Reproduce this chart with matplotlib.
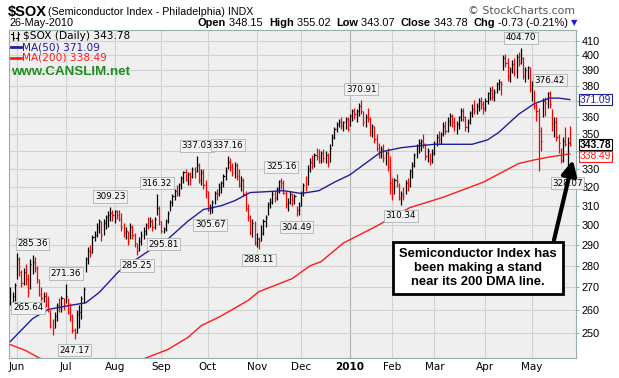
import numpy as np
import pandas as pd
import matplotlib
matplotlib.use("Agg")
import matplotlib.pyplot as plt
from matplotlib.lines import Line2D
from matplotlib.transforms import blended_transform_factory, offset_copy

# ---------------- data ----------------
start_date = "2009-05-27"
end_date = "2010-05-26"
holidays = ["2009-07-03", "2009-09-07", "2009-11-26", "2009-12-25",
            "2010-01-01", "2010-01-18", "2010-02-15", "2010-04-02"]

highs = [270, 268, 272, 286, 284, 278, 279, 281, 276, 283, 285.36, 284, 280, 274, 270, 268, 268, 266, 260, 256,
         259, 263, 265, 266, 265,
         271.36, 265, 263, 258, 252, 260, 262, 266, 270, 284, 289, 290, 295, 297, 301, 303, 302, 303, 305, 307, 309.23, 308,
         308, 308, 308, 306, 301, 299, 297, 301, 300, 296, 291, 294, 297, 299, 301, 304, 304, 303, 304, 316.32, 310,
         302, 299, 303, 307, 313, 316, 319, 321, 322, 326, 329, 330, 328, 328, 331, 331, 337.03, 333, 330, 330, 324,
         318, 311, 313, 318, 319, 322, 323, 327, 331, 337.16, 336, 333, 334, 333, 330, 326, 325, 318, 311, 305, 303, 302,
         296, 294, 300, 303, 305, 312, 314, 318, 318, 320, 324, 325.16, 324, 318, 314, 318, 317, 316, 310, 312,
         318, 322, 326, 332, 336, 338, 339, 342, 341, 340, 341, 340, 339, 344, 350, 354, 357, 359, 360, 358, 360, 360,
         362, 365, 366, 365, 369, 370.91, 364, 362, 366, 360, 356, 355, 350, 345, 343, 344, 340, 342, 337,
         325, 325, 327, 322, 318, 320, 324, 325, 330, 334, 339, 344, 347, 347, 350, 345, 342, 339, 341,
         346, 350, 352, 351, 357, 358, 360, 363, 362, 360, 358, 361, 366, 366, 361, 359, 364, 368, 371, 369, 372, 373, 370,
         372, 376, 379, 380, 378, 382, 384, 383, 400, 401, 398, 392, 397, 398, 401, 402, 404.70, 399, 392, 393, 392,
         383, 377, 369, 366, 354, 372, 373, 376, 376.42, 365, 360, 360, 350, 342, 348, 354, 348, 355.02]

lows = [262, 261, 264, 274, 275, 270, 271, 271, 265.64, 269, 276, 277, 272, 266, 264, 262, 261, 259, 252, 249,
        252, 255, 259, 259, 260,
        263, 258, 255, 250, 247.17, 250, 252, 256, 263, 277, 281, 284, 286, 292, 294, 296, 292, 295, 298, 299, 302, 302,
        301, 303, 302, 297, 294, 293, 290, 293, 293, 289, 285.25, 287, 290, 293, 295, 298, 299, 297, 298, 305, 300,
        296, 295.81, 297, 301, 307, 310, 313, 315, 315, 319, 322, 323, 321, 321, 325, 325, 328, 322, 321, 319, 314,
        307, 305.67, 306, 311, 313, 315, 317, 320, 324, 330, 329, 326, 325, 324, 320, 318, 315, 307, 302, 295, 294, 290,
        289, 288.11, 292, 295, 299, 305, 309, 311, 312, 313, 317, 319, 316, 309, 307, 311, 310, 311, 304.49, 305,
        310, 315, 318, 321, 328, 330, 331, 335, 333, 333, 334, 333, 331, 334, 343, 347, 351, 354, 353, 352, 353, 352,
        355, 358, 359, 357, 361, 362, 355, 354, 357, 349, 348, 345, 340, 336, 336, 334, 332, 329, 316,
        313, 316, 320, 313, 310.34, 313, 316, 318, 320, 325, 331, 336, 339, 340, 342, 335, 334, 332, 333,
        338, 343, 345, 344, 349, 350, 351, 355, 354, 352, 350, 353, 358, 358, 352, 351, 356, 360, 362, 362, 364, 365, 362,
        364, 368, 371, 371, 370, 375, 377, 374, 390, 392, 383, 382, 388, 386, 385, 393, 394, 384, 382, 384, 376,
        370, 365, 358, 329, 340, 360, 361, 366, 366, 352, 348, 346, 339, 333, 334, 343, 328.07, 343.07]

closes = [263, 266, 271, 283, 277, 272, 277, 274, 268, 281, 282, 279, 274, 267, 265, 266, 262, 260, 253, 252,
          257, 262, 261, 265, 262,
          266, 259, 257, 251, 250, 258, 259, 265, 269, 283, 287, 286, 294, 295, 299, 302, 295, 301, 304, 305, 306, 305,
          307, 305, 303, 299, 296, 297, 292, 299, 295, 291, 287, 292, 295, 297, 300, 299, 302, 299, 303, 309, 302,
          297, 298, 302, 306, 312, 315, 318, 317, 321, 325, 328, 324, 327, 326, 330, 329, 332, 324, 328, 321, 318,
          308, 309, 312, 317, 316, 320, 322, 326, 329, 334, 331, 328, 332, 326, 321, 324, 316, 309, 304, 296, 301, 291,
          293, 292, 296, 302, 304, 311, 312, 316, 314, 319, 323, 322, 317, 311, 312, 316, 313, 315, 308, 310,
          317, 321, 320, 330, 334, 333, 338, 337, 335, 339, 336, 338, 333, 342, 348, 353, 356, 357, 355, 357, 359, 353,
          361, 364, 362, 364, 367, 364, 357, 360, 359, 351, 355, 347, 342, 338, 341, 336, 339, 331, 322,
          320, 324, 323, 314, 316, 315, 322, 321, 329, 332, 338, 343, 345, 346, 344, 337, 340, 335, 339,
          345, 348, 347, 350, 355, 352, 358, 361, 357, 355, 356, 360, 364, 360, 354, 357, 363, 365, 364, 367, 370, 368, 366,
          370, 375, 377, 373, 376, 381, 382, 381, 398, 395, 386, 390, 394, 388, 399, 395, 398, 386, 390, 392, 378,
          381, 367, 364, 352, 346, 370, 369, 375, 368, 356, 357, 348, 345, 335, 346, 344, 344.51, 343.78]

ma50_dates = ["2009-05-27", "2009-06-10", "2009-06-19", "2009-07-01", "2009-07-15", "2009-07-23", "2009-08-05",
              "2009-08-14", "2009-08-25", "2009-09-04", "2009-09-18", "2009-09-29", "2009-10-09", "2009-10-19",
              "2009-10-28", "2009-11-09", "2009-11-18", "2009-12-01", "2009-12-11", "2009-12-22", "2010-01-04",
              "2010-01-14", "2010-01-25", "2010-02-05", "2010-02-17", "2010-03-01", "2010-03-10", "2010-03-24",
              "2010-04-05", "2010-04-12", "2010-04-23", "2010-05-04", "2010-05-13", "2010-05-19", "2010-05-26"]
ma50_values = [246.3, 256, 260, 261.5, 263, 267.6, 277.5, 282.6, 287.6, 293, 302, 308, 310, 312.6, 317, 317.5, 318,
               316.5, 318, 322.6, 326.7, 334, 339.6, 342, 343, 344, 344, 344, 346.6, 351, 362, 368.5, 372, 372, 371.09]

ma200_dates = ["2009-05-27", "2009-06-05", "2009-06-15", "2009-07-01", "2009-07-22", "2009-08-10", "2009-08-21",
               "2009-09-04", "2009-09-18", "2009-09-28", "2009-10-08", "2009-10-16", "2009-10-27", "2009-11-03",
               "2009-11-24", "2009-12-07", "2009-12-14", "2009-12-29", "2010-01-21", "2010-02-11", "2010-03-05",
               "2010-03-31", "2010-04-23", "2010-05-04", "2010-05-13", "2010-05-26"]
ma200_values = [245, 242.5, 239.5, 236, 234.5, 236, 239.5, 243, 248, 253, 256.7, 260, 264, 268, 274, 280, 282,
                291, 299.5, 309, 314.5, 322.6, 333, 335, 336.7, 338.49]

label_dates = ["2009-06-10", "2009-06-08", "2009-07-01", "2009-07-08", "2009-07-30", "2009-08-17", "2009-08-28",
               "2009-09-02", "2009-09-24", "2009-10-02", "2009-10-14", "2009-11-03", "2009-11-17", "2009-11-27",
               "2010-01-11", "2010-02-05", "2010-04-26", "2010-05-13", "2010-05-25"]
label_values = [285.36, 265.64, 271.36, 247.17, 309.23, 285.25, 316.32, 295.81, 337.03, 305.67, 337.16, 288.11,
                325.16, 304.49, 370.91, 310.34, 404.70, 376.42, 328.07]
label_above = [True, False, True, False, True, False, True, False, True, False, True, False, True, False,
               True, False, True, True, False]

y_ticks = [250, 260, 270, 280, 290, 300, 310, 320, 330, 340, 350, 360, 370, 380, 390, 400, 410]
y_hidden = [340, 370]   # covered by the value tags in the reference
month_labels = ["Jun", "Jul", "Aug", "Sep", "Oct", "Nov", "Dec", "2010", "Feb", "Mar", "Apr", "May"]

# ---------------- figure ----------------
W, H = 619, 378
fig = plt.figure(figsize=(W / 100, H / 100), dpi=100)
fig.patch.set_facecolor("white")

L, R, T, B = 9, 576, 30, 358
ax = fig.add_axes([L / W, 1 - B / H, (R - L) / W, (B - T) / H])
ax.set_facecolor("#EFEFEF")

cal = pd.offsets.CustomBusinessDay(holidays=holidays)
dates = pd.date_range(start_date, end_date, freq=cal)
n = min(len(dates), len(closes))
dates = dates[:n]
x = np.arange(n)
hi = np.array(highs[:n]); lo = np.array(lows[:n]); cl = np.array(closes[:n])

def idx(d):
    return int(dates.searchsorted(pd.Timestamp(d)))

colors = ["black"] + ["black" if cl[i] >= cl[i - 1] else "#FF0000" for i in range(1, n)]
ax.vlines(x, lo, hi, colors=colors, lw=0.9, zorder=3)
ax.hlines(cl, x, x + 0.5, colors=colors, lw=0.9, zorder=3)

ax.plot([idx(d) for d in ma50_dates], ma50_values, color="#1F1F99", lw=1.0, zorder=4)
ax.plot([idx(d) for d in ma200_dates], ma200_values, color="#FF1A1A", lw=1.0, zorder=4)

ax.set_yscale("log")
ax.set_ylim(239.5, 417.5)
ax.set_xlim(-0.6, 254.8)

ax.set_yticks(y_ticks)
ax.set_yticklabels(["" if v in y_hidden else str(v) for v in y_ticks], fontfamily="Liberation Sans", fontsize=7.8)
ax.yaxis.set_minor_locator(matplotlib.ticker.NullLocator())
ax.yaxis.tick_right()
ax.tick_params(axis="y", length=2.5, width=0.6, color="#8A9A95", pad=1.5)

month_idx = [i for i in range(1, n) if dates[i].month != dates[i - 1].month]
ax.set_xticks(month_idx)
ax.set_xticklabels(month_labels[:len(month_idx)], fontfamily="DejaVu Sans", fontsize=7.5)
for lab in ax.get_xticklabels():
    if lab.get_text() == "2010":
        lab.set_fontweight("bold")
ax.tick_params(axis="x", length=0, pad=3)

ax.grid(True, color="#D2D2D2", lw=0.8, zorder=0)
ax.set_axisbelow(True)
for gl, lab in zip(ax.xaxis.get_gridlines(), month_labels):
    if lab == "2010":
        gl.set_color("#B0B0B0")
for s in ax.spines.values():
    s.set_color("#9AAEA8")
    s.set_linewidth(0.8)

# peak / trough labels
for d, v, up in zip(label_dates, label_values, label_above):
    ax.annotate(f"{v:.2f}", xy=(idx(d), v), xytext=(0, 4.5 if up else -4.5), textcoords="offset points",
                ha="center", va="bottom" if up else "top", fontsize=6.3, fontfamily="DejaVu Sans",
                bbox=dict(boxstyle="square,pad=0.18", fc="#F2F2F2", ec="#A9B5B1", lw=0.6), zorder=6)

# right-side value tags
tr = blended_transform_factory(ax.transAxes, ax.transData)
for val, col, wt, dy in [(371.09, "#1F1F99", "normal", 0), (343.78, "black", "bold", 0),
                         (338.49, "#FF1A1A", "normal", -1.8)]:
    ax.text(1.007, val, f"{val:.2f}", transform=offset_copy(tr, fig=fig, x=0, y=dy, units="points"),
            ha="left", va="center", fontsize=7.4,
            fontfamily="Liberation Sans", fontweight=wt, color=col, clip_on=False, zorder=10,
            bbox=dict(boxstyle="square,pad=0.06", fc="white", ec=col, lw=0.8))

# header
fig.text(8 / W, 1 - 16 / H, "$SOX", fontsize=10.5, fontweight="bold", fontfamily="Liberation Sans", va="baseline")
fig.text(48 / W, 1 - 15 / H, "(Semiconductor Index - Philadelphia) INDX", fontsize=7.7,
         fontfamily="Liberation Sans", va="baseline")
fig.text(9 / W, 1 - 26.5 / H, "26-May-2010", fontsize=7.8, fontfamily="Liberation Sans", va="baseline")
fig.text(575 / W, 1 - 14 / H, "\u00a9 StockCharts.com", fontsize=7.8, fontfamily="DejaVu Sans", color="#555555",
         ha="right", va="baseline")

pieces = [("Open", "bold"), (" 348.15  ", "normal"), ("High", "bold"), (" 355.02  ", "normal"),
          ("Low", "bold"), (" 343.07  ", "normal"), ("Close", "bold"), (" 343.78  ", "normal"),
          ("Chg", "bold"), (" -0.73 (-0.21%)", "normal")]
prev = fig.text(198 / W, 1 - 26.5 / H, pieces[0][0], fontsize=7.9, fontweight=pieces[0][1],
                fontfamily="Liberation Sans", va="baseline")
for txt, wt in pieces[1:]:
    prev = ax.annotate(txt, xy=(1, 0), xycoords=prev, xytext=(0, 0), textcoords="offset points",
                       fontsize=7.9, fontweight=wt, fontfamily="Liberation Sans", va="bottom",
                       annotation_clip=False)
ax.annotate("\u25bc", xy=(1, 0), xycoords=prev, xytext=(2, 1), textcoords="offset points",
            fontsize=6, color="#1A1AE6", va="bottom", annotation_clip=False)

# legend block
fx = lambda px: px / W
fy = lambda py: 1 - py / H
for xx in (12.5, 17.5):
    fig.add_artist(Line2D([fx(xx), fx(xx)], [fy(32), fy(40)], color="black", lw=0.8))
fig.add_artist(Line2D([fx(11), fx(12.5)], [fy(34), fy(34)], color="black", lw=0.8))
fig.add_artist(Line2D([fx(12.5), fx(14)], [fy(38), fy(38)], color="black", lw=0.8))
fig.add_artist(Line2D([fx(16), fx(17.5)], [fy(38), fy(38)], color="black", lw=0.8))
fig.add_artist(Line2D([fx(17.5), fx(19)], [fy(34), fy(34)], color="black", lw=0.8))
fig.text(fx(23), fy(36), "$SOX (Daily) 343.78", fontsize=7.6, fontfamily="DejaVu Sans", va="center")
fig.add_artist(Line2D([fx(11), fx(21)], [fy(47), fy(47)], color="#1F1F99", lw=2))
fig.text(fx(22), fy(47), "MA(50) 371.09", fontsize=7.6, fontfamily="DejaVu Sans", va="center", color="#1F1F99")
fig.add_artist(Line2D([fx(11), fx(21)], [fy(58), fy(58)], color="#FF1A1A", lw=2))
fig.text(fx(22), fy(58), "MA(200) 338.49", fontsize=7.6, fontfamily="DejaVu Sans", va="center", color="#FF1A1A")
fig.text(fx(11), fy(72), "www.CANSLIM.net", fontsize=9.6, fontweight="bold", fontfamily="Liberation Sans",
         va="center", color="#1E8C1E")

# commentary box and arrow
ax.annotate("", xy=(fx(573), fy(160)), xycoords="figure fraction", xytext=(fx(554), fy(240)),
            textcoords="figure fraction",
            arrowprops=dict(arrowstyle="-|>,head_length=0.9,head_width=0.45", lw=3, color="black",
                            shrinkA=0, shrinkB=0), zorder=8, annotation_clip=False)
fig.text(fx(478), fy(268), "Semiconductor Index has\nbeen making a stand\nnear its 200 DMA line.",
         ha="center", va="center", fontsize=9.4, fontweight="bold", fontfamily="Liberation Sans",
         linespacing=1.25, zorder=9,
         bbox=dict(boxstyle="square,pad=0.45", fc="white", ec="black", lw=2))

fig.savefig("out.png", dpi=100)
